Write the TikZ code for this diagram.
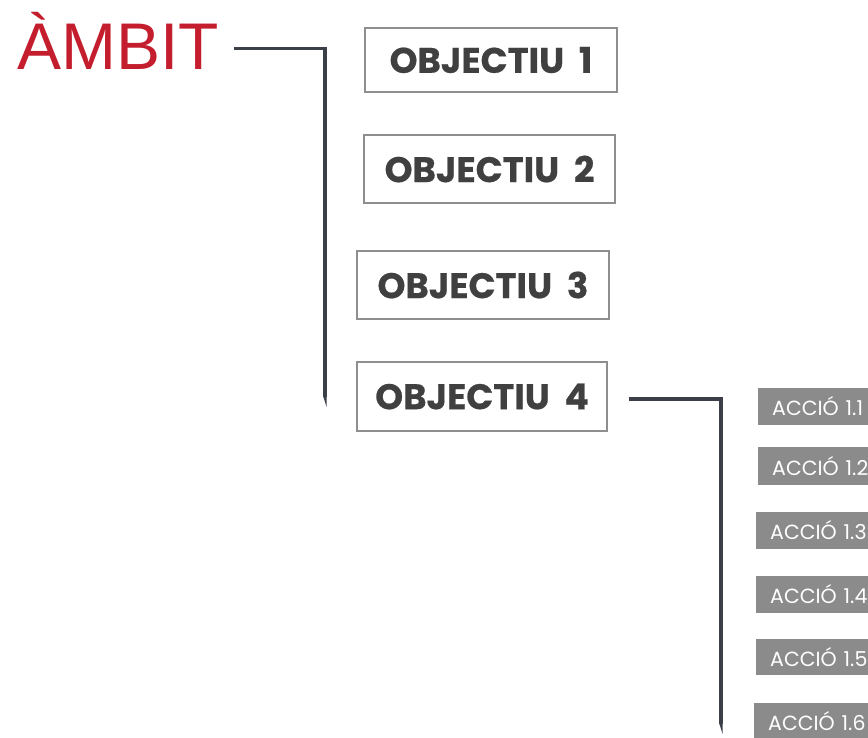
\documentclass[tikz,border=0pt]{standalone}
\usepackage{fontspec}
\setmainfont{Liberation Sans}
\newfontfamily\objfont{Poppins}[BoldFeatures={FakeBold=0.6}]
\newfontfamily\accfont{Poppins}
\definecolor{ambred}{HTML}{C41E2E}
\definecolor{connc}{HTML}{3A3F48}
\definecolor{boxgray}{HTML}{8E8E8E}
\definecolor{objtext}{HTML}{404040}
\definecolor{accgray}{HTML}{8B8B8B}
\tikzset{
  conn/.style={draw=connc, line width=3.2pt},
  taper/.style={fill=connc, draw=none},
  objbox/.style={draw=boxgray, line width=1.5pt, fill=white, inner sep=0pt,
    text=objtext, font=\objfont\bfseries\fontsize{35.5}{35.5}\selectfont},
  accbox/.style={fill=accgray, text=white, anchor=west, inner ysep=0pt, inner xsep=14pt,
    text width=108pt, align=left, minimum height=37pt,
    font=\accfont\fontsize{20.5}{20.5}\selectfont}
}
\newcommand{\objgap}{\hspace{0.42em}}
\begin{document}
\begin{tikzpicture}[x=1pt,y=-1pt]
\useasboundingbox (0,0) rectangle (868,738);
\clip (0,0) rectangle (868,738);
\node[anchor=base west, inner sep=0pt, text=ambred, font=\fontsize{66}{66}\selectfont] (amb) at (17,70) {ÀMBIT};

\node[objbox, minimum width=252pt, minimum height=64pt] (o1) at (491,60) {OBJECTIU\objgap 1};
\node[objbox, minimum width=251pt, minimum height=68pt] (o2) at (489.5,169) {OBJECTIU\objgap 2};
\node[objbox, minimum width=252pt, minimum height=68pt] (o3) at (483,285) {OBJECTIU\objgap 3};
\node[objbox, minimum width=250pt, minimum height=69pt] (o4) at (482,396.5) {OBJECTIU\objgap 4};

\node[accbox] (a1) at (758,406.5) {ACCIÓ 1.1};
\node[accbox, minimum height=38pt] (a2) at (758,466) {ACCIÓ 1.2};
\node[accbox] (a3) at (756,530.5) {ACCIÓ 1.3};
\node[accbox] (a4) at (756,594.5) {ACCIÓ 1.4};
\node[accbox, minimum height=36pt] (a5) at (756,657) {ACCIÓ 1.5};
\node[accbox] (a6) at (754,721.5) {ACCIÓ 1.6};

\coordinate (c1) at (325,397);
\coordinate (c2) at (721,724);
\draw[conn] ([xshift=15pt,yshift=-7pt]amb.east) -| (c1);
\draw[conn] ([xshift=21pt,yshift=-2.5pt]o4.east) -| (c2);
\fill[taper] ([xshift=-1.6pt]c1) -- ([xshift=1.6pt]c1) -- ([xshift=1.6pt,yshift=-10pt]c1) -- cycle;
\fill[taper] ([xshift=-1.6pt]c2) -- ([xshift=1.6pt]c2) -- ([xshift=1.6pt,yshift=-10pt]c2) -- cycle;
\end{tikzpicture}
\end{document}
